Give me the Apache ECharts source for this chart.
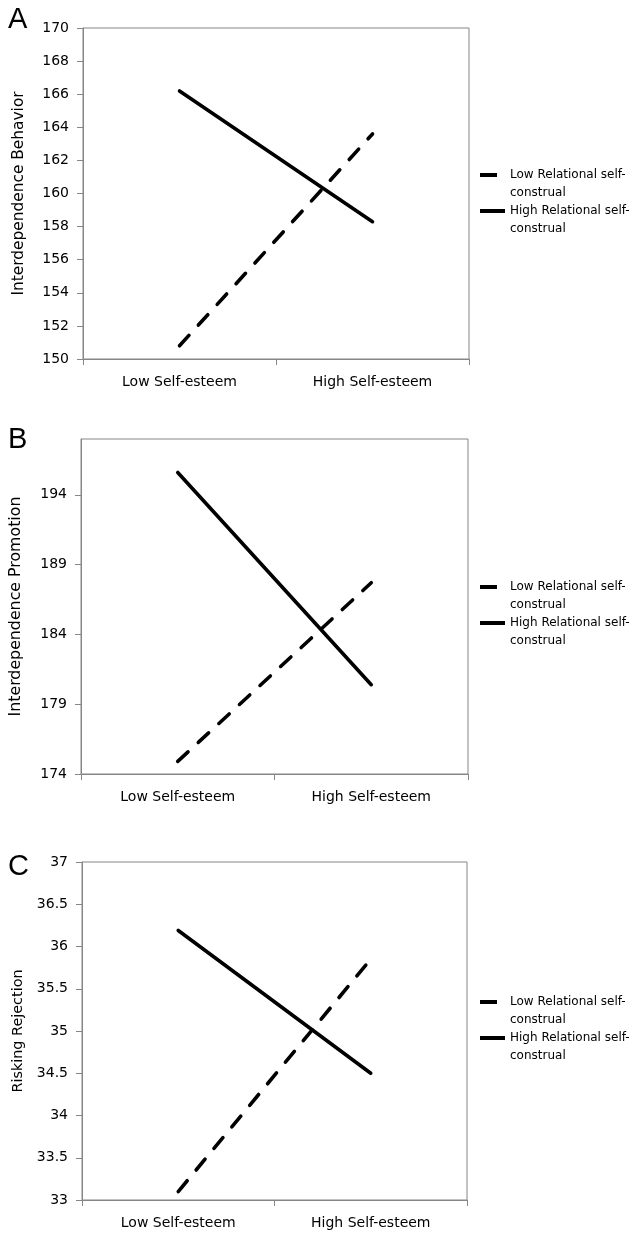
<!DOCTYPE html>
<html>
<head>
<meta charset="utf-8">
<script src="https://cdn.jsdelivr.net/npm/echarts@6/dist/echarts.min.js"></script>
<style>
html,body{margin:0;padding:0;background:#fff;}
#chart{width:641px;height:1235px;}
</style>
</head>
<body>
<div id="chart"></div>
<script>
// ---- data ----
var categories = ['Low Self-esteem', 'High Self-esteem'];
var seriesNames = ['Low Relational self-construal', 'High Relational self-construal'];
var legendLabels = ['Low Relational self-\nconstrual', 'High Relational self-\nconstrual'];

var panelLetters = ['A', 'B', 'C'];
var yTitles = ['Interdependence Behavior', 'Interdependence Promotion', 'Risking Rejection'];

// Panel A: Interdependence Behavior
var aLowRel = [150.8, 163.6];
var aHighRel = [166.2, 158.3];
var aTicks = [150, 152, 154, 156, 158, 160, 162, 164, 166, 168, 170];

// Panel B: Interdependence Promotion
var bLowRel = [174.9, 187.7];
var bHighRel = [195.6, 180.4];
var bTicks = [174, 179, 184, 189, 194];

// Panel C: Risking Rejection
var cLowRel = [33.1, 35.85];
var cHighRel = [36.19, 34.5];
var cTicks = [33, 33.5, 34, 34.5, 35, 35.5, 36, 36.5, 37];

// ---- layout ----
var grids = [
  {left: 83, top: 28, width: 386, height: 331},
  {left: 80, top: 439, width: 388, height: 335},
  {left: 82, top: 862, width: 385, height: 338}
];
var yRanges = [[150, 170, 2], [174, 198, 5], [33, 37, 0.5]];
var nameSizes = [15.4, 15.8, 14.4];
var legendTops = [148, 560, 975];
var letterTops = [5, 425, 852];
var FONT = 'DejaVu Sans';
var AX = '#868686';

// legend key shapes (one dash / full line)
var DASH_ICON = 'path://M0,0H17V4H0Z M24.98,0H25V0.02H24.98Z';
var LINE_ICON = 'path://M0,0H25V4H0Z';

var lowData = [aLowRel, bLowRel, cLowRel];
var highData = [aHighRel, bHighRel, cHighRel];
var tickSets = [aTicks, bTicks, cTicks];

var option = {
  animation: false,
  backgroundColor: '#fff',
  color: ['#000', '#000'],
  title: [], grid: [], xAxis: [], yAxis: [], series: [], legend: []
};

for (var i = 0; i < 3; i++) {
  var g = grids[i];
  option.grid.push({
    left: g.left, top: g.top, width: g.width, height: g.height,
    show: true, borderColor: AX, borderWidth: 1, backgroundColor: 'transparent'
  });
  option.title.push({
    text: panelLetters[i], left: 8, top: letterTops[i], padding: 0,
    textStyle: {fontFamily: 'Liberation Sans', fontSize: 29, fontWeight: 'normal', color: '#000'}
  });
  option.xAxis.push({
    type: 'category', gridIndex: i, data: categories, boundaryGap: true,
    axisLine: {lineStyle: {color: AX, width: 1}},
    axisTick: {show: true, length: 6, lineStyle: {color: AX}},
    axisLabel: {color: '#000', fontFamily: FONT, fontSize: 14, margin: 16},
    splitLine: {show: false}
  });
  var tks = tickSets[i];
  option.yAxis.push({
    type: 'value', gridIndex: i,
    min: yRanges[i][0], max: yRanges[i][1], interval: yRanges[i][2],
    name: yTitles[i], nameLocation: 'middle', nameGap: 57,
    nameTextStyle: {color: '#000', fontFamily: FONT, fontSize: nameSizes[i]},
    axisLine: {show: true, lineStyle: {color: AX, width: 1}},
    axisTick: {show: true, length: 6, lineStyle: {color: AX}, customValues: tks},
    axisLabel: {color: '#000', fontFamily: FONT, fontSize: 14, margin: 14, customValues: tks},
    splitLine: {show: false}
  });
  option.series.push({
    name: seriesNames[0], type: 'line', xAxisIndex: i, yAxisIndex: i,
    data: lowData[i], symbol: 'none', itemStyle: {color: '#000'},
    lineStyle: {color: '#000', width: 3.6, type: [14, 14], cap: 'round'}
  });
  option.series.push({
    name: seriesNames[1], type: 'line', xAxisIndex: i, yAxisIndex: i,
    data: highData[i], symbol: 'none', itemStyle: {color: '#000'},
    lineStyle: {color: '#000', width: 3.6, type: 'solid', cap: 'round'}
  });
  option.legend.push({
    orient: 'vertical', left: 480, top: legendTops[i], padding: 0,
    itemWidth: 25, itemHeight: 4, itemGap: -18,
    itemStyle: {color: '#000', borderWidth: 0},
    data: [
      {name: seriesNames[0], icon: DASH_ICON},
      {name: seriesNames[1], icon: LINE_ICON}
    ],
    formatter: function (name) {
      return '\n' + (name === seriesNames[0] ? legendLabels[0] : legendLabels[1]);
    },
    textStyle: {color: '#000', fontFamily: FONT, fontSize: 12, lineHeight: 18},
    selectedMode: false
  });
}

var chart = echarts.init(document.getElementById('chart'), null, {renderer: 'canvas'});
chart.setOption(option);
</script>
</body>
</html>
